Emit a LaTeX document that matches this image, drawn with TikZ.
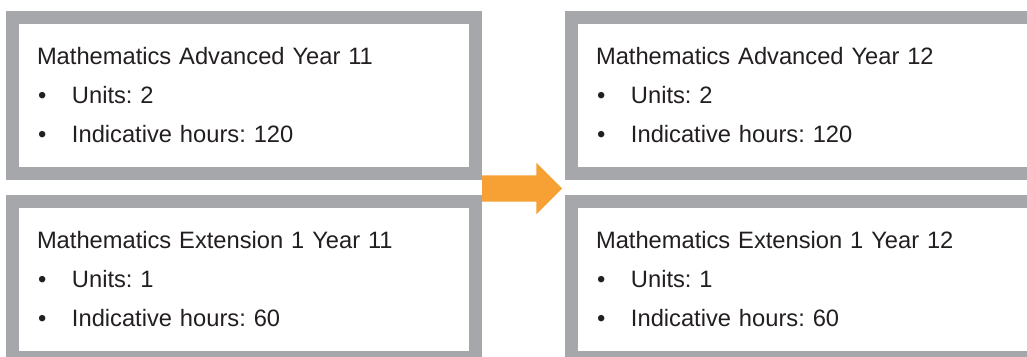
\documentclass[tikz,border=0pt]{standalone}
\usepackage{fontspec}
\setmainfont{Liberation Sans}
\usetikzlibrary{positioning,shapes.arrows,calc}

\definecolor{boxgray}{RGB}{166,167,171}
\definecolor{arroworange}{RGB}{247,160,52}
\definecolor{textdark}{RGB}{35,31,32}

\frenchspacing
\newcommand{\bulletline}[1]{\makebox[35pt][l]{\hspace{1pt}\textbullet}#1}

\begin{document}
\begin{tikzpicture}[x=1pt,y=-1pt,
  course/.style={draw=boxgray,line width=13pt,fill=white,minimum width=463pt,minimum height=156pt,
    text width=414pt,inner xsep=24.5pt,align=left,text=textdark,
    font=\fontsize{23.7pt}{39pt}\selectfont},
  nextyear/.style={single arrow,fill=arroworange,inner xsep=0pt,inner ysep=13pt,minimum width=51pt,
    minimum height=80pt,single arrow head extend=12.5pt,single arrow head indent=0pt,outer sep=0pt}]
  \useasboundingbox (0,0) rectangle (1027,356);
  \clip (0,0) rectangle (1027,356);
  % year 11
  \node[course] (adv11) at (244,95.5) {Mathematics Advanced Year 11\\
    \bulletline{Units: 2}\\
    \bulletline{Indicative hours: 120}};
  \node[course,below=15pt of adv11] (ext11) {Mathematics Extension 1 Year 11\\
    \bulletline{Units: 1}\\
    \bulletline{Indicative hours: 60}};
  % year 12
  \node[course,right=83pt of adv11] (adv12) {Mathematics Advanced Year 12\\
    \bulletline{Units: 2}\\
    \bulletline{Indicative hours: 120}};
  \node[course,right=83pt of ext11] (ext12) {Mathematics Extension 1 Year 12\\
    \bulletline{Units: 1}\\
    \bulletline{Indicative hours: 60}};
  \node[nextyear,anchor=tail] (arrow) at ($(adv11.south east)!0.5!(ext11.north east)+(0,1)$) {};
\end{tikzpicture}
\end{document}
